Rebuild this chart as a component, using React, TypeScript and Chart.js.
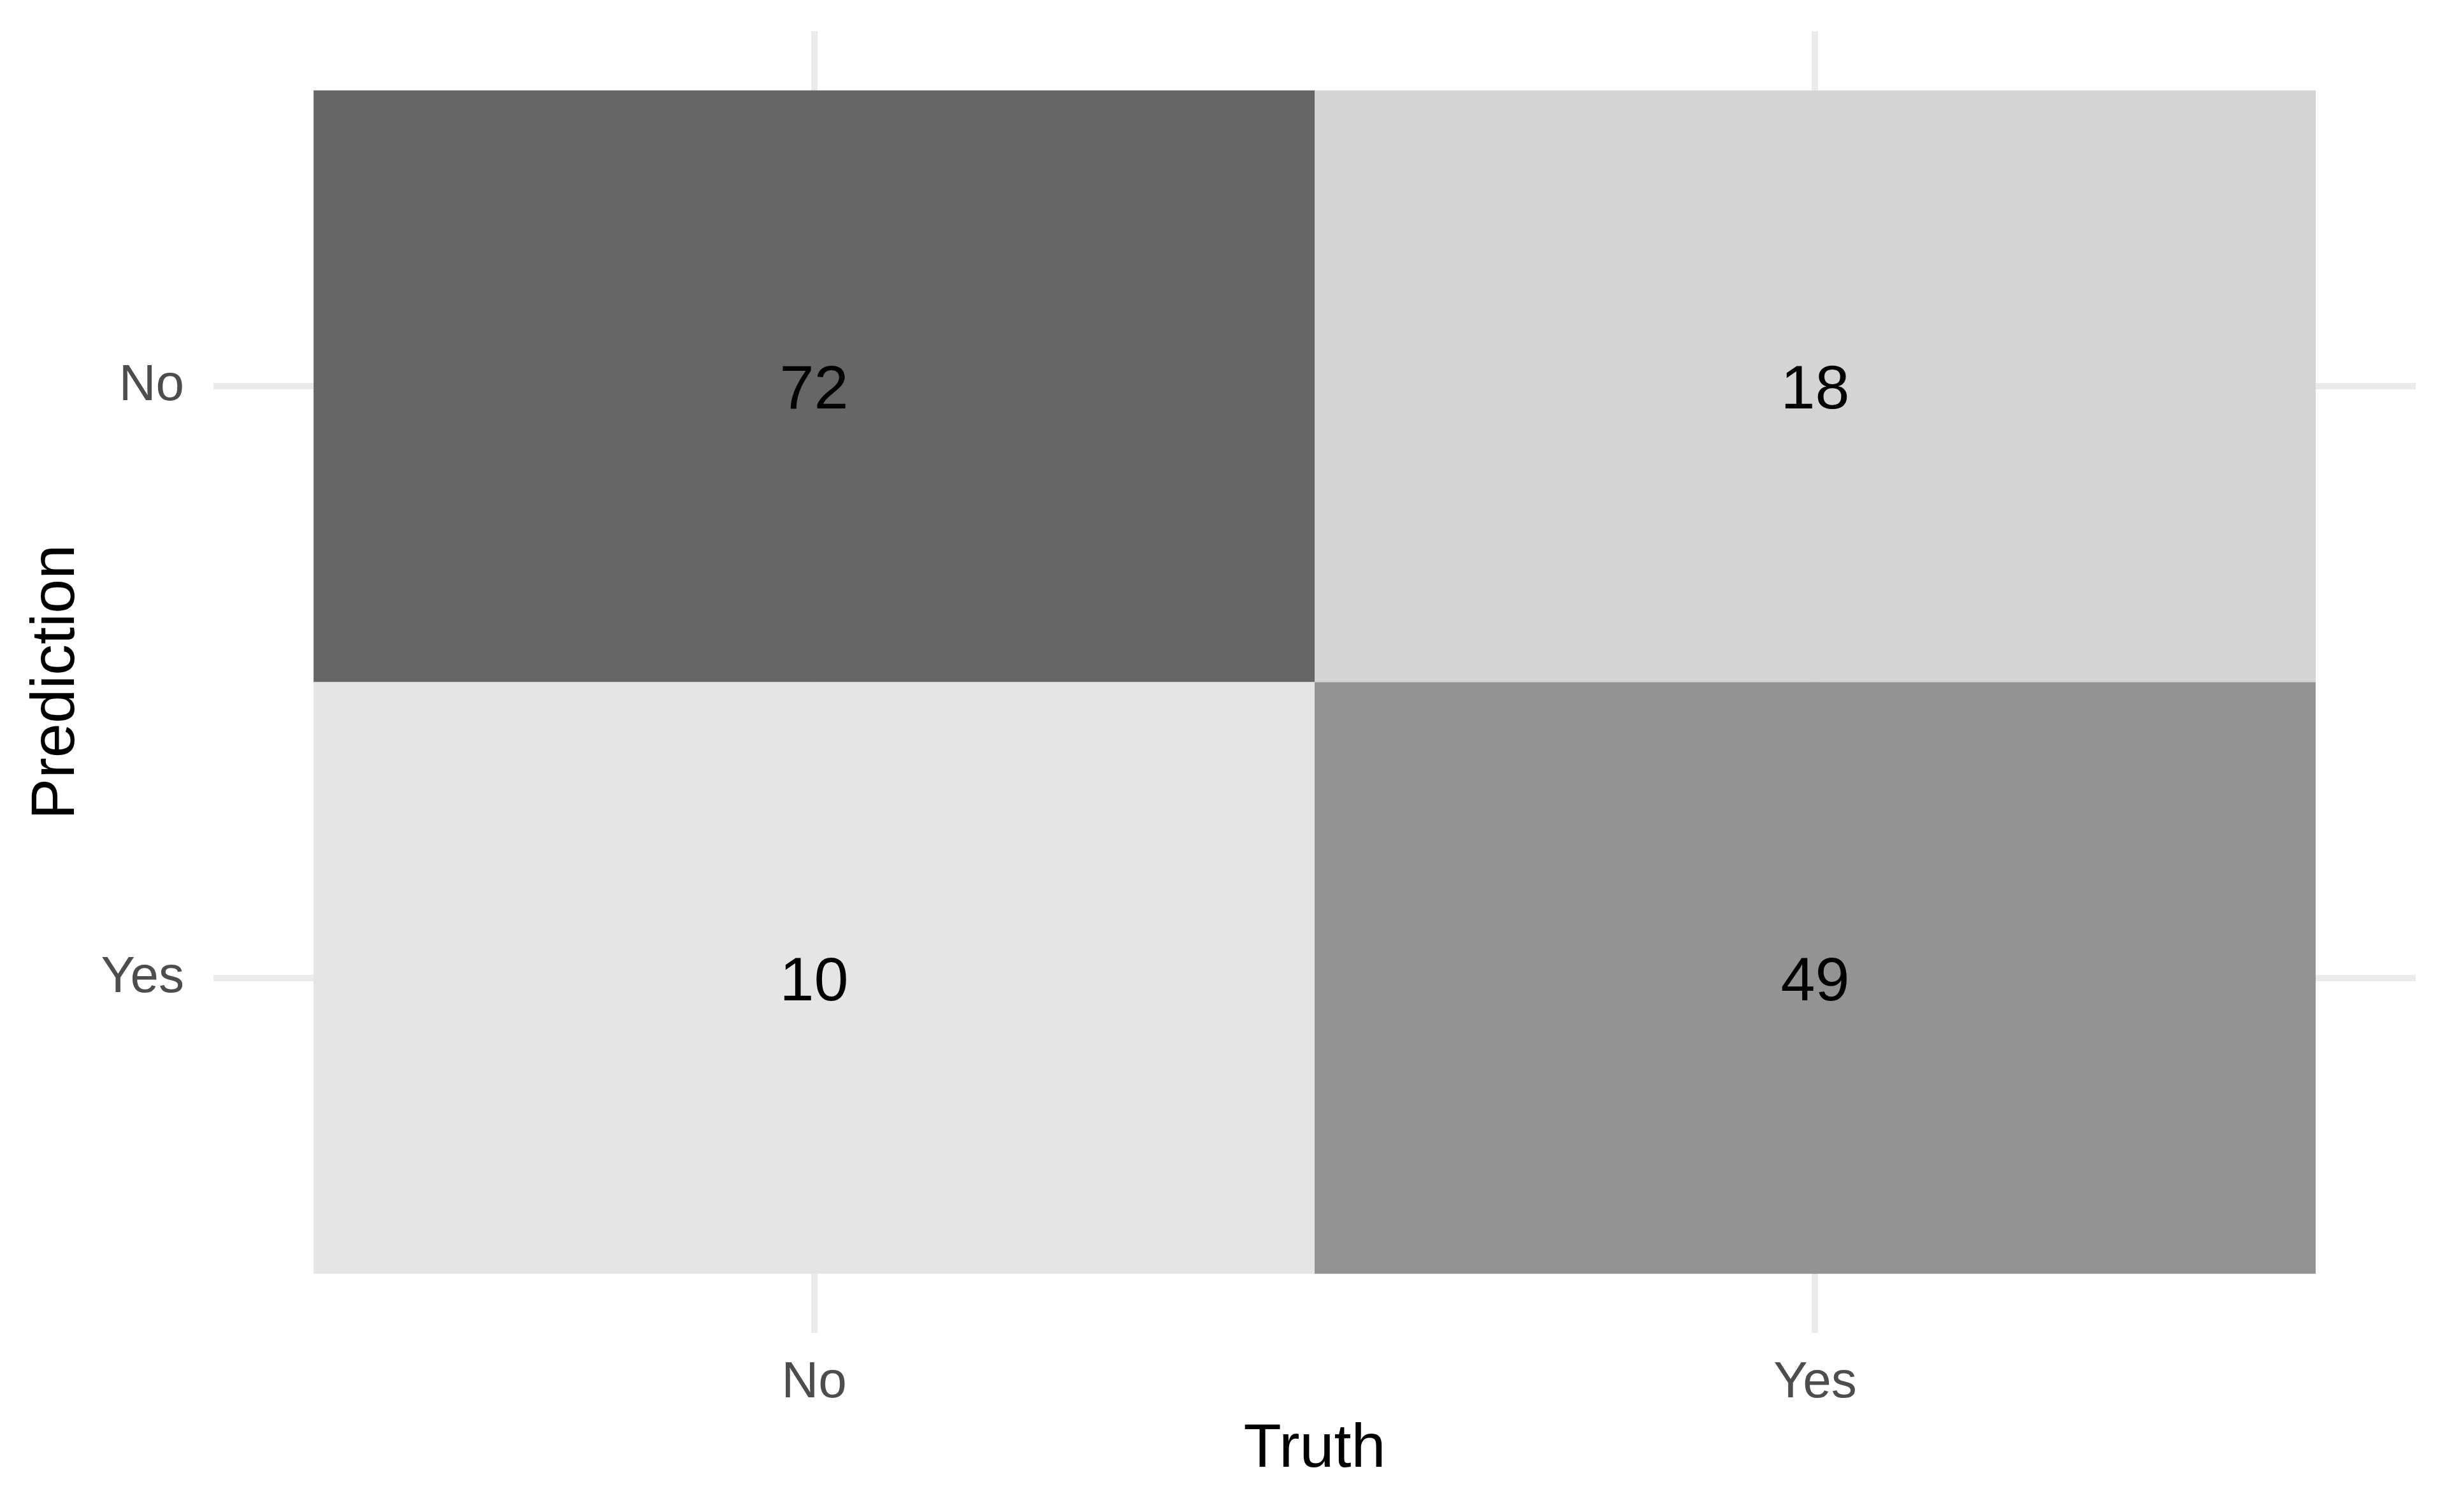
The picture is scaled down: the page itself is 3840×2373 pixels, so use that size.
import React, { useEffect, useRef } from "react";
import { Chart, registerables } from "chart.js";

Chart.register(...registerables);

// ---- Data ----
const truthCategories = ["No", "Yes"];
const predictionCategories = ["No", "Yes"];
const countsPredictionNo = [72, 18]; // Prediction = No, Truth = No / Yes
const countsPredictionYes = [10, 49]; // Prediction = Yes, Truth = No / Yes
const xTitle = "Truth";
const yTitle = "Prediction";

const FONT = "'Liberation Sans', Arial, Helvetica, sans-serif";

// ggplot-like continuous grey fill scale (interpolated in CIELAB lightness)
const LOW_GREY = 229; // grey90
const HIGH_GREY = 102; // grey40
function greyToL(c: number): number {
  const s = c / 255;
  const lin = s <= 0.04045 ? s / 12.92 : Math.pow((s + 0.055) / 1.055, 2.4);
  const f = lin > 0.008856 ? Math.cbrt(lin) : 7.787 * lin + 16 / 116;
  return 116 * f - 16;
}
function lToGrey(L: number): number {
  const fy = (L + 16) / 116;
  const Y = fy > 0.206893 ? fy * fy * fy : (fy - 16 / 116) / 7.787;
  const s = Y <= 0.0031308 ? 12.92 * Y : 1.055 * Math.pow(Y, 1 / 2.4) - 0.055;
  return Math.round(Math.max(0, Math.min(1, s)) * 255);
}

type Cell = { x: number; y: number; v: number };

function buildCells(): Cell[] {
  const cells: Cell[] = [];
  const rows = [countsPredictionNo, countsPredictionYes];
  rows.forEach((row, yi) => {
    row.forEach((v, xi) => {
      cells.push({ x: xi + 1, y: yi + 1, v });
    });
  });
  return cells;
}

export default function App() {
  const canvasRef = useRef<HTMLCanvasElement | null>(null);

  useEffect(() => {
    document.body.style.margin = "0";
    const canvas = canvasRef.current;
    if (!canvas) return;
    const cells = buildCells();
    const values = cells.map((c) => c.v);
    const vmin = Math.min(...values);
    const vmax = Math.max(...values);
    const Llow = greyToL(LOW_GREY);
    const Lhigh = greyToL(HIGH_GREY);
    const fillFor = (v: number) => {
      const t = (v - vmin) / (vmax - vmin);
      const g = lToGrey(Llow + (Lhigh - Llow) * t);
      return `rgb(${g},${g},${g})`;
    };

    const tilePlugin = {
      id: "tiles",
      beforeDatasetsDraw(chart: any) {
        const ctx = chart.ctx;
        const xs = chart.scales.x;
        const ys = chart.scales.y;
        const data = chart.data.datasets[0].data as Cell[];
        ctx.save();
        for (const d of data) {
          const x0 = xs.getPixelForValue(d.x - 0.5);
          const x1 = xs.getPixelForValue(d.x + 0.5);
          const y0 = ys.getPixelForValue(d.y - 0.5);
          const y1 = ys.getPixelForValue(d.y + 0.5);
          ctx.fillStyle = fillFor(d.v);
          ctx.fillRect(
            Math.min(x0, x1),
            Math.min(y0, y1),
            Math.abs(x1 - x0),
            Math.abs(y1 - y0)
          );
        }
        ctx.restore();
      },
      afterDatasetsDraw(chart: any) {
        const ctx = chart.ctx;
        const xs = chart.scales.x;
        const ys = chart.scales.y;
        const data = chart.data.datasets[0].data as Cell[];
        const size = 97;
        ctx.save();
        ctx.fillStyle = "#000000";
        ctx.font = `${size}px ${FONT}`;
        ctx.textAlign = "center";
        ctx.textBaseline = "alphabetic";
        for (const d of data) {
          // centre the digits' height on the tile centre
          ctx.fillText(String(d.v), xs.getPixelForValue(d.x), ys.getPixelForValue(d.y) + size * 0.358);
        }
        ctx.restore();
      },
    };

    const chart = new Chart(canvas, {
      type: "scatter",
      data: {
        datasets: [
          {
            data: cells as any,
            pointRadius: 0,
            pointHoverRadius: 0,
          },
        ],
      },
      options: {
        animation: false,
        responsive: false,
        devicePixelRatio: 1,
        layout: { padding: { top: 49, right: 49, bottom: 0, left: 0 } },
        plugins: {
          legend: { display: false },
          tooltip: { enabled: false },
        },
        scales: {
          x: {
            type: "linear",
            min: 0.4,
            max: 2.6,
            afterBuildTicks: (scale: any) => {
              scale.ticks = truthCategories.map((_, i) => ({ value: i + 1 }));
            },
            afterFit: (scale: any) => {
              scale.height = 281;
              scale.paddingLeft = 0;
              scale.paddingRight = 0;
            },
            grid: { color: "#ebebeb", lineWidth: 10, drawTicks: false },
            border: { display: false },
            ticks: {
              padding: 31,
              color: "#4d4d4d",
              font: { family: FONT, size: 80 },
              callback: (v: any) => truthCategories[Number(v) - 1] ?? "",
              maxRotation: 0,
              autoSkip: false,
            },
            title: {
              display: true,
              text: xTitle,
              color: "#000000",
              font: { family: FONT, size: 97 },
              padding: { top: 0, bottom: 40 },
            },
          },
          y: {
            type: "linear",
            min: 0.4,
            max: 2.6,
            reverse: true,
            afterBuildTicks: (scale: any) => {
              scale.ticks = predictionCategories.map((_, i) => ({ value: i + 1 }));
            },
            afterFit: (scale: any) => {
              scale.width = 335;
              scale.paddingTop = 0;
              scale.paddingBottom = 0;
            },
            grid: { color: "#ebebeb", lineWidth: 10, drawTicks: false },
            border: { display: false },
            ticks: {
              padding: 46,
              color: "#4d4d4d",
              font: { family: FONT, size: 80 },
              callback: (v: any) => predictionCategories[Number(v) - 1] ?? "",
              autoSkip: false,
            },
            title: {
              display: true,
              text: yTitle,
              color: "#000000",
              font: { family: FONT, size: 97 },
              padding: { top: 31, bottom: 0 },
            },
          },
        },
      },
      plugins: [tilePlugin],
    });

    return () => {
      chart.destroy();
    };
  }, []);

  return (
    <div style={{ position: "absolute", left: 0, top: 0, width: 3840, height: 2373, background: "#ffffff" }}>
      <canvas ref={canvasRef} width={3840} height={2373} style={{ display: "block" }} />
    </div>
  );
}
